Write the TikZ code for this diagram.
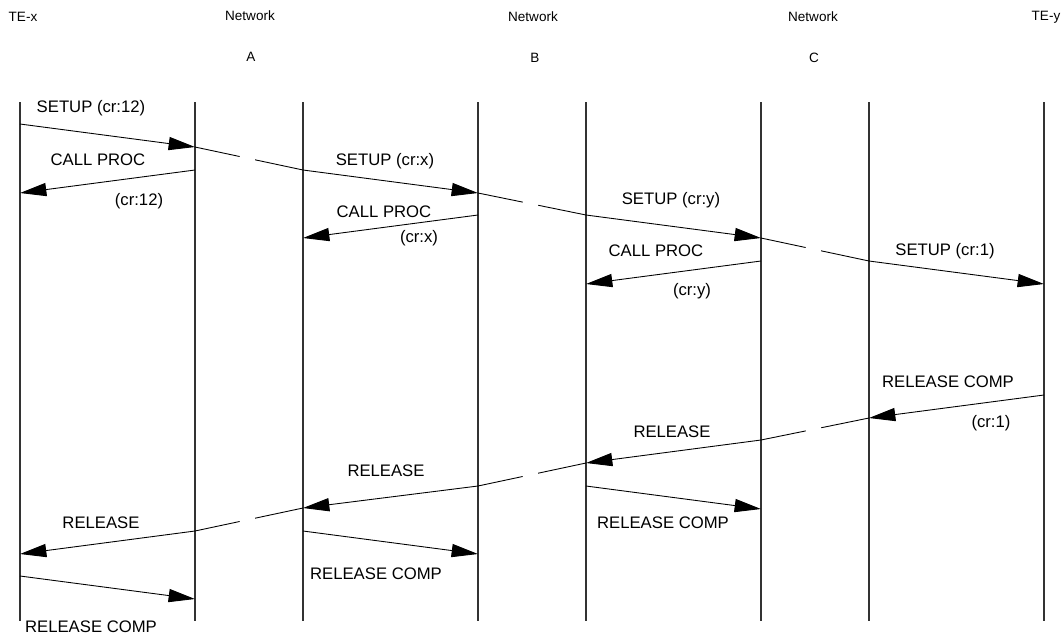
\documentclass[tikz,border=0pt]{standalone}
\usepackage{fontspec}
\setmainfont{Liberation Sans}
\usetikzlibrary{arrows.meta}
\begin{document}
\begin{tikzpicture}[x=0.02cm, y=-0.02cm,
  life/.style={line width=.6pt, black!80},
  msg/.style={line width=.5pt, -{Triangle[length=15pt,width=7.5pt]}},
  thru/.style={line width=.5pt, dash pattern=on 26pt off 9pt on 40pt off 1pt},
  lbl/.style={font=\fontsize{9.5}{11}\selectfont, inner sep=0pt},
  head/.style={font=\fontsize{7.7}{9}\selectfont, inner sep=0pt}]
\useasboundingbox (0,0) rectangle (1063,637);
% lifelines
\foreach \n/\x in {tx/20, aL/195, aR/303, bL/478, bR/586, cL/761, cR/869, ty/1044}{
  \coordinate (\n) at (\x,102);
  \draw[life] (\n) -- ++(0,519);
}
% headings
\node[head] (tex) at (23,17) {TE-x};
\node[head] (netA) at (250,16) {Network};
\node[head] (nameA) at (251,57) {A};
\node[head] (netB) at (533,17) {Network};
\node[head] (nameB) at (535,58) {B};
\node[head] (netC) at (813,17) {Network};
\node[head] (nameC) at (814,58) {C};
\node[head] (tey) at (1046,17) {TE-y};
% call set-up
\draw[msg] (tx |- 0,124) -- (aL |- 0,147);
\draw[thru] (aL |- 0,147) -- (aR |- 0,170);
\draw[msg] (aL |- 0,170) -- (tx |- 0,193);
\draw[msg] (aR |- 0,170) -- (bL |- 0,193);
\draw[thru] (bL |- 0,193) -- (bR |- 0,215);
\draw[msg] (bL |- 0,215) -- (aR |- 0,238);
\draw[msg] (bR |- 0,215) -- (cL |- 0,238);
\draw[thru] (cL |- 0,238) -- (cR |- 0,261);
\draw[msg] (cL |- 0,261) -- (bR |- 0,284);
\draw[msg] (cR |- 0,261) -- (ty |- 0,284);
\node[lbl] (s12) at (91,108) {SETUP (cr:12)};
\node[lbl] (cp12) at (98,160) {CALL PROC};
\node[lbl] (cr12) at (139,201) {(cr:12)};
\node[lbl] (sx) at (385,161) {SETUP (cr:x)};
\node[lbl] (cpx) at (384,212) {CALL PROC};
\node[lbl] (crx) at (419,238) {(cr:x)};
\node[lbl] (sy) at (671,200) {SETUP (cr:y)};
\node[lbl] (cpy) at (656,251) {CALL PROC};
\node[lbl] (cry) at (692,291) {(cr:y)};
\node[lbl] (s1) at (945,251) {SETUP (cr:1)};
% clearing
\draw[msg] (ty |- 0,395) -- (cR |- 0,418);
\draw[thru] (cL |- 0,440) -- (cR |- 0,418);
\draw[msg] (cL |- 0,440) -- (bR |- 0,463);
\draw[thru] (bL |- 0,486) -- (bR |- 0,463);
\draw[msg] (bR |- 0,486) -- (cL |- 0,509);
\draw[msg] (bL |- 0,486) -- (aR |- 0,508);
\draw[thru] (aL |- 0,531) -- (aR |- 0,508);
\draw[msg] (aR |- 0,531) -- (bL |- 0,554);
\draw[msg] (aL |- 0,531) -- (tx |- 0,554);
\draw[msg] (tx |- 0,576) -- (aL |- 0,599);
\node[lbl] (rc1) at (948,382) {RELEASE COMP};
\node[lbl] (cr1) at (991,423) {(cr:1)};
\node[lbl] (relC) at (672,432) {RELEASE};
\node[lbl] (relB) at (386,471) {RELEASE};
\node[lbl] (rcC) at (663,523) {RELEASE COMP};
\node[lbl] (relA) at (101,523) {RELEASE};
\node[lbl] (rcB) at (376,574) {RELEASE COMP};
\node[lbl] (rcA) at (91,627) {RELEASE COMP};
\end{tikzpicture}
\end{document}
